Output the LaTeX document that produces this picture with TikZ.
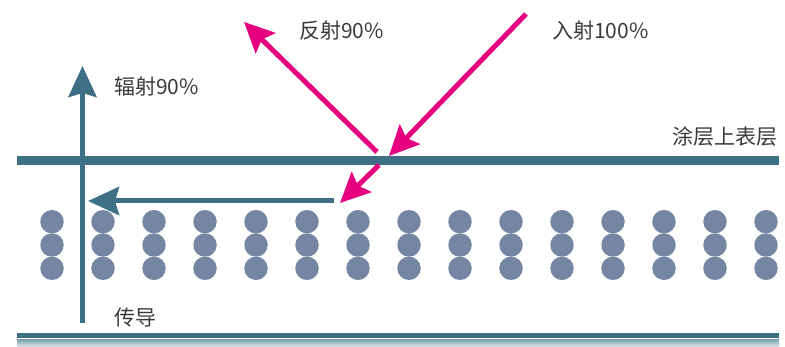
\documentclass[tikz,border=0pt]{standalone}
\usepackage{fontspec}
\setmainfont{Noto Sans CJK SC}
\usetikzlibrary{arrows.meta}
\definecolor{teal}{HTML}{3E7085}
\definecolor{pinkc}{HTML}{E5007F}
\definecolor{dotc}{HTML}{7586A2}
\definecolor{txt}{HTML}{3A3A3A}
\definecolor{gtop}{HTML}{86A6B4}
\definecolor{gbot}{HTML}{E2EBEE}
\tikzset{
  lbl/.style={text=txt, font=\fontsize{21}{24}\selectfont, inner sep=0pt},
  pinkarrow/.style={draw=pinkc, line width=5pt, -{Stealth[length=30pt, width=28pt, inset=5pt]}},
  tealarrow/.style={draw=teal, line width=5pt, -{Stealth[length=31pt, width=28pt, inset=4pt]}},
  dot/.style={circle, fill=dotc, minimum size=23.5pt, inner sep=0pt},
}
\begin{document}
\begin{tikzpicture}[x=1pt, y=-1pt]
\useasboundingbox (0,0) rectangle (785,347);
% surface line
\coordinate (sL) at (17,161);
\coordinate (sR) at (779,161);
\draw[teal, line width=9pt] (sL) -- (sR);
% bottom line
\coordinate (bL) at (17,335.5);
\coordinate (bR) at (779,335.5);
\draw[teal, line width=4.5pt] (bL) -- (bR);
\shade[top color=gtop, bottom color=gbot] (17,340) rectangle (779,347);
% dots
\foreach \i in {0,...,14} {
  \foreach \j/\yy in {0/221.7,1/245,2/268.3} {
    \node[dot] (d\i-\j) at ({52+\i*51},\yy) {};
  }
}
% vertical conduction/radiation arrow
\coordinate (vB) at (82.5,323);
\coordinate (vT) at (82.5,66);
\draw[tealarrow] (vB) -- (vT);
% horizontal arrow
\coordinate (hS) at (334,201);
\coordinate (hE) at (88,201);
\draw[tealarrow] (hS) -- (hE);
% incident
\coordinate (iS) at (526,14);
\coordinate (iE) at (389,156);
\draw[pinkarrow] (iS) -- (iE);
% reflected
\coordinate (rS) at (377,152);
\coordinate (rE) at (244,22);
\draw[pinkarrow] (rS) -- (rE);
% transmitted
\coordinate (tS) at (379,165);
\coordinate (tE) at (340,203);
\draw[pinkarrow] (tS) -- (tE);
% labels
\node[lbl, anchor=west] (l1) at (114,87) {辐射90\%};
\node[lbl, anchor=west] (l2) at (299,31) {反射90\%};
\node[lbl, anchor=west] (l3) at (552,31) {入射100\%};
\node[lbl, anchor=east] (l4) at (778,137) {涂层上表层};
\node[lbl, anchor=west] (l5) at (114,318) {传导};
\end{tikzpicture}
\end{document}
